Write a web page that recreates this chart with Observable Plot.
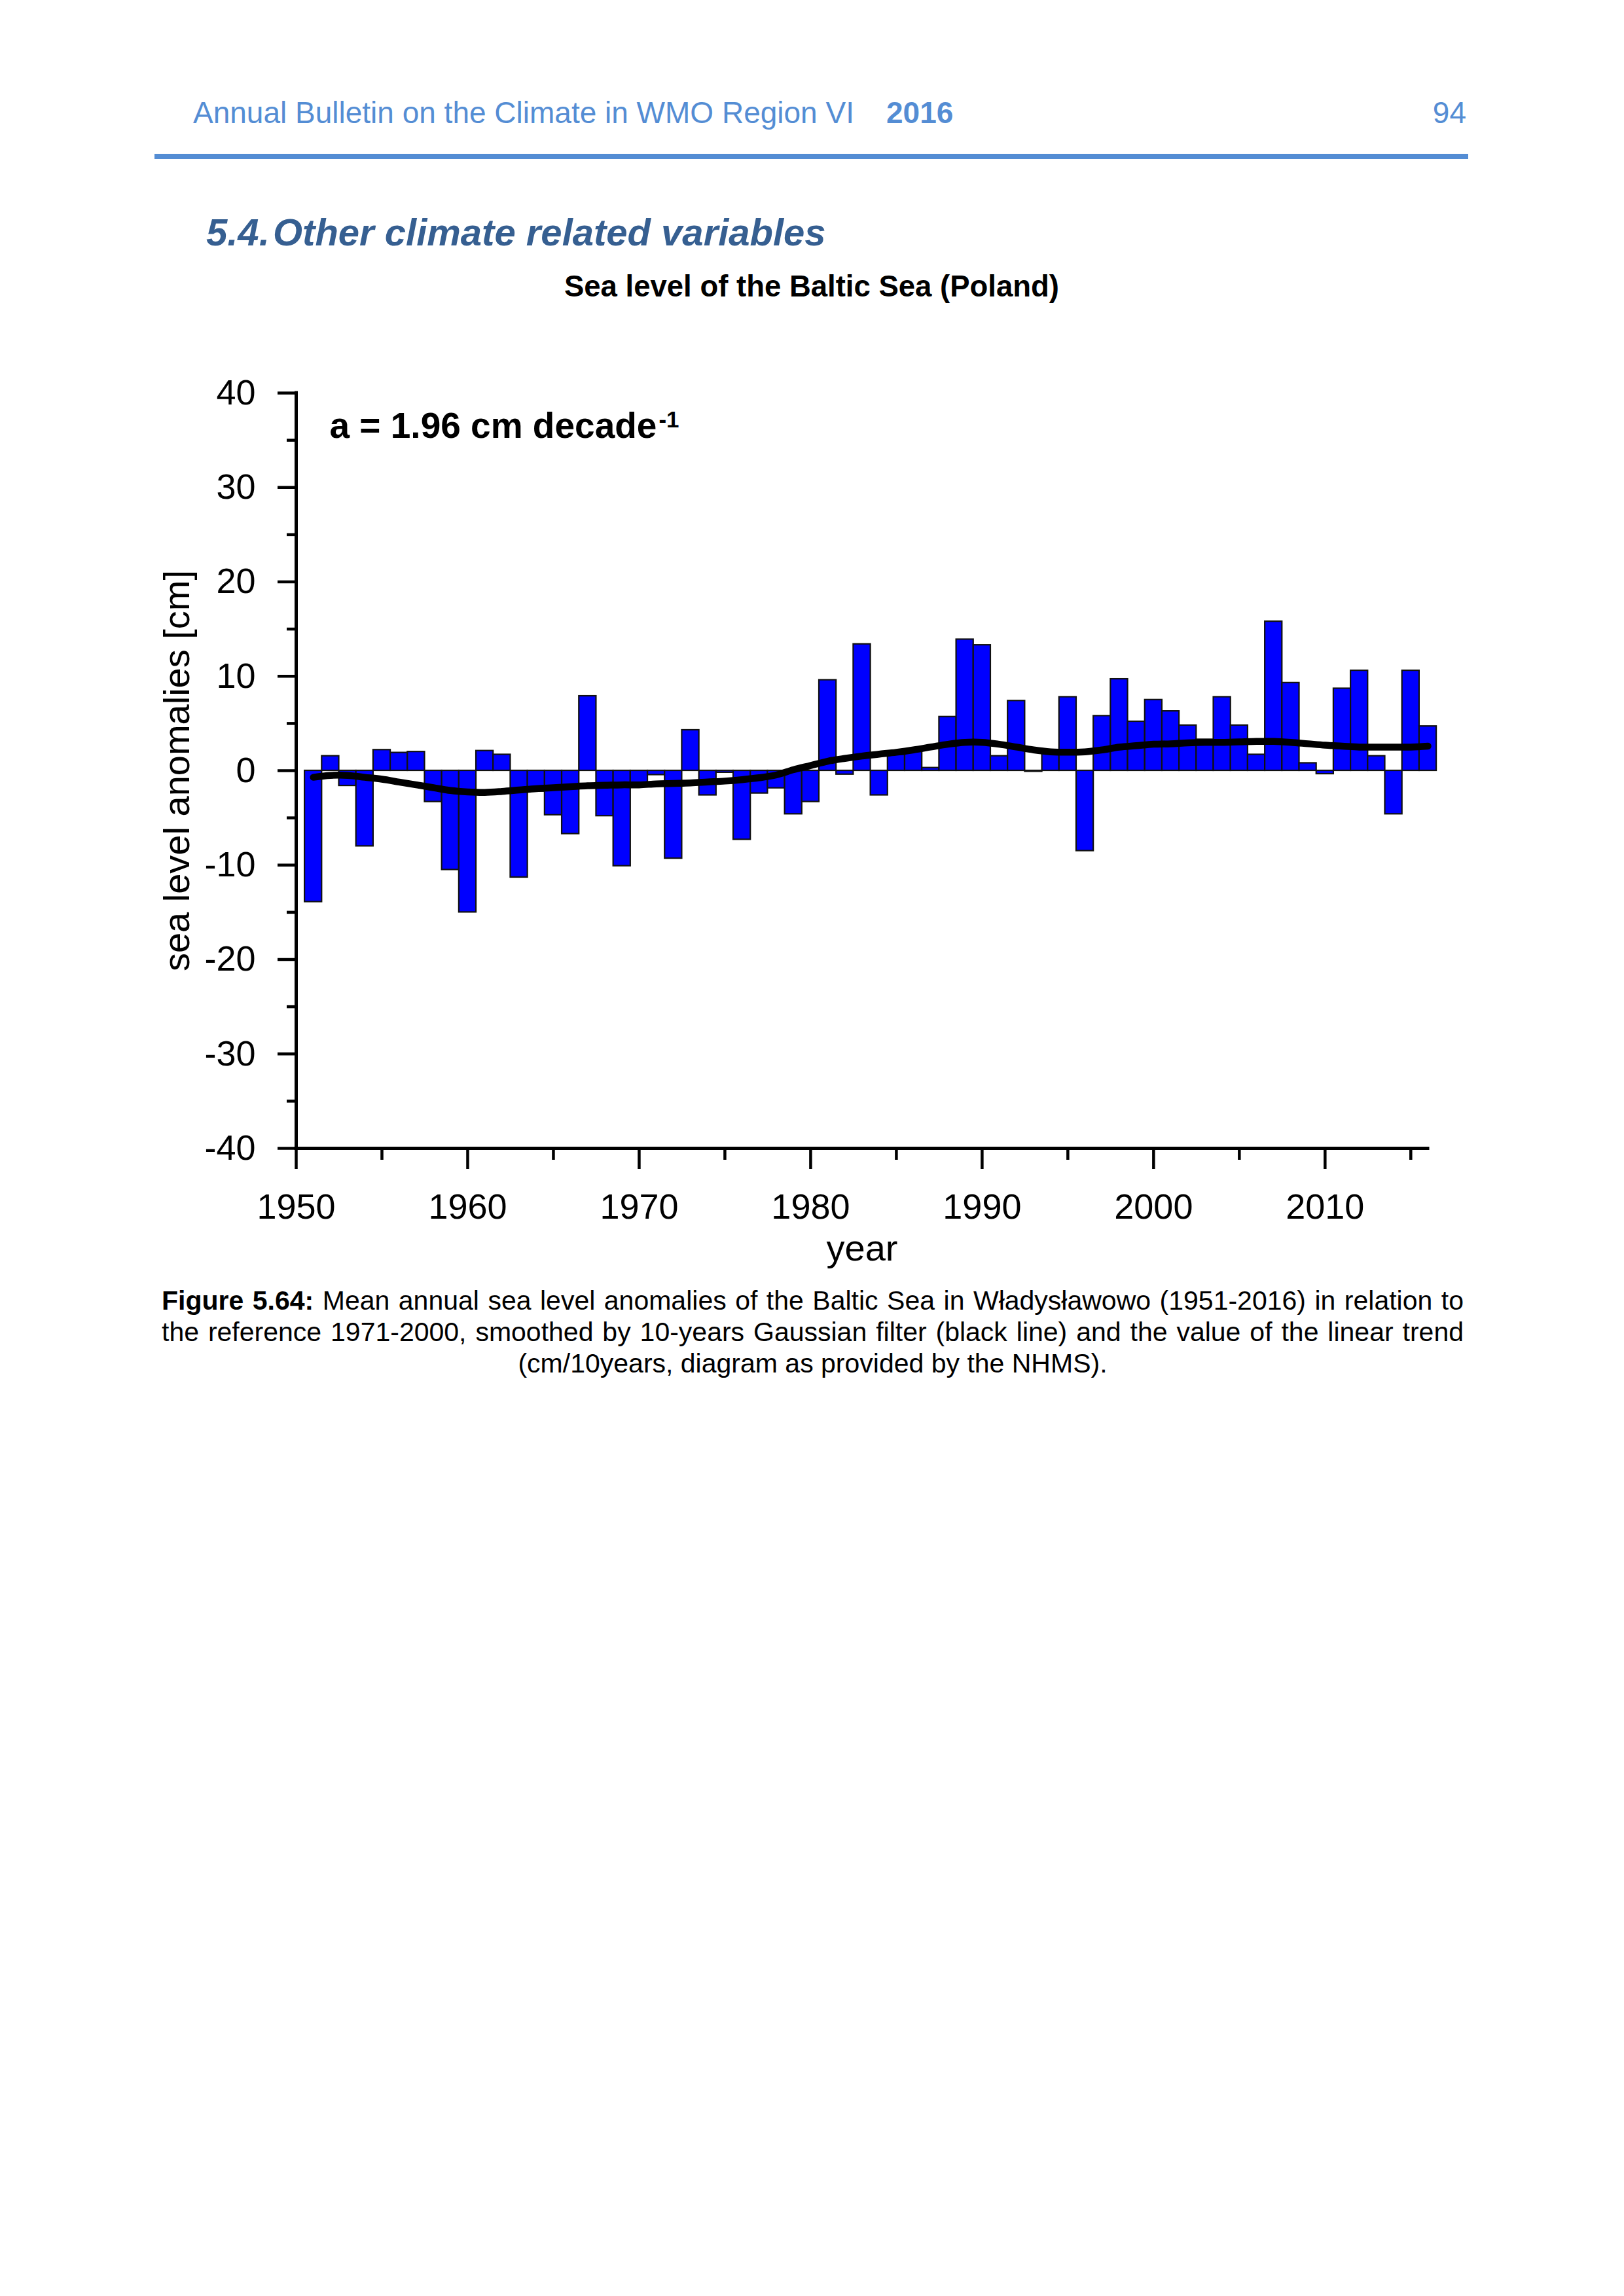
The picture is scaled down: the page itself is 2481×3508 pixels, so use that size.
<!DOCTYPE html>
<html>
<head>
<meta charset="utf-8">
<script src="https://cdn.jsdelivr.net/npm/d3@7"></script>
<script src="https://cdn.jsdelivr.net/npm/@observablehq/plot@0.6"></script>
<style>
  html, body { margin: 0; padding: 0; background: #fff; }
  #page { position: relative; width: 2481px; height: 3508px; background: #fff; overflow: hidden;
          font-family: "Liberation Sans", Arial, sans-serif; }
  .t { position: absolute; white-space: nowrap; }
</style>
</head>
<body>
<div id="page"></div>
<script>
// ---------------- data ----------------
const years = [
  1951,1952,1953,1954,1955,1956,1957,1958,1959,1960,
  1961,1962,1963,1964,1965,1966,1967,1968,1969,1970,
  1971,1972,1973,1974,1975,1976,1977,1978,1979,1980,
  1981,1982,1983,1984,1985,1986,1987,1988,1989,1990,
  1991,1992,1993,1994,1995,1996,1997,1998,1999,2000,
  2001,2002,2003,2004,2005,2006,2007,2008,2009,2010,
  2011,2012,2013,2014,2015,2016
];
const anomaly = [
  -13.9, 1.55, -1.6, -8.0, 2.2, 1.9, 2.0, -3.3, -10.5, -15.0,
  2.1, 1.7, -11.3, -2.2, -4.7, -6.7, 7.9, -4.8, -10.1, -1.7,
  -0.45, -9.3, 4.3, -2.6, -0.2, -7.3, -2.4, -1.85, -4.6, -3.3,
  9.6, -0.4, 13.4, -2.6, 1.7, 2.1, 0.3, 5.7, 13.9, 13.3,
  1.55, 7.4, -0.1, 1.9, 7.8, -8.5, 5.8, 9.7, 5.2, 7.5,
  6.3, 4.8, 3.3, 7.8, 4.8, 1.7, 15.8, 9.3, 0.8, -0.35,
  8.7, 10.6, 1.55, -4.6, 10.6, 4.7
];
const smoothed = [
  -0.7, -0.5, -0.5, -0.7, -0.9, -1.2, -1.5, -1.8, -2.1, -2.25,
  -2.3, -2.2, -2.05, -1.9, -1.8, -1.7, -1.6, -1.55, -1.5, -1.5,
  -1.4, -1.35, -1.3, -1.2, -1.1, -0.95, -0.75, -0.45, 0.1, 0.55,
  1.0, 1.3, 1.55, 1.75, 1.95, 2.2, 2.5, 2.8, 3.0, 3.0,
  2.8, 2.5, 2.2, 2.0, 1.95, 2.0, 2.2, 2.5, 2.65, 2.8,
  2.85, 2.95, 3.0, 3.0, 3.05, 3.1, 3.1, 3.0, 2.85, 2.7,
  2.6, 2.5, 2.5, 2.5, 2.5, 2.6
];
const xMajorTicks = [1950, 1960, 1970, 1980, 1990, 2000, 2010];
const xMinorTicks = [1955, 1965, 1975, 1985, 1995, 2005, 2015];
const yMajorTicks = [-40, -30, -20, -10, 0, 10, 20, 30, 40];
const yMinorTicks = [-35, -25, -15, -5, 5, 15, 25, 35];
const trendLabel = "a = 1.96 cm decade";
const trendSup = "-1";
const yLabel = "sea level anomalies [cm]";
const xLabel = "year";

// ---------------- page texts ----------------
const FONT = '"Liberation Sans", Arial, sans-serif';
const page = document.getElementById("page");
function place(text, x, baseline, size, opts = {}) {
  const d = document.createElement("div");
  d.className = "t";
  d.textContent = text;
  d.style.fontSize = size + "px";
  d.style.lineHeight = size + "px";
  d.style.top = (baseline - 0.8465 * size) + "px";
  if (opts.right != null) d.style.right = (2481 - opts.right) + "px";
  else if (opts.center != null) { d.style.left = (opts.center - 1500) + "px"; d.style.width = "3000px"; d.style.textAlign = "center"; }
  else d.style.left = x + "px";
  if (opts.bold) d.style.fontWeight = "bold";
  if (opts.italic) d.style.fontStyle = "italic";
  d.style.color = opts.color || "#000";
  page.appendChild(d);
  return d;
}
const HEAD = "#548DD4";
place("Annual Bulletin on the Climate in WMO Region VI", 295, 188, 46, {color: HEAD});
place("2016", 1354, 188, 46, {color: HEAD, bold: true});
place("94", null, 188, 46, {color: HEAD, right: 2240});
const rule = document.createElement("div");
Object.assign(rule.style, {position: "absolute", left: "236px", top: "235px", width: "2007px", height: "8px", background: HEAD});
page.appendChild(rule);
place("5.4.", 315, 375, 58, {color: "#365F91", bold: true, italic: true});
place("Other climate related variables", 417, 375, 58, {color: "#365F91", bold: true, italic: true});
place("Sea level of the Baltic Sea (Poland)", null, 454, 45.5, {bold: true, center: 1240});

// caption
function captionLine(html, baseline, justify) {
  const d = document.createElement("div");
  d.className = "t";
  d.innerHTML = html;
  Object.assign(d.style, {
    left: "247px", width: "1989px", fontSize: "41px", lineHeight: "41px",
    top: (baseline - 0.8465 * 41) + "px", color: "#000",
    textAlign: justify ? "justify" : "center", textAlignLast: justify ? "justify" : "center",
    whiteSpace: "normal"
  });
  page.appendChild(d);
}
captionLine("<b>Figure 5.64:</b> Mean annual sea level anomalies of the Baltic Sea in Władysławowo (1951-2016) in relation to", 2002, true);
captionLine("the reference 1971-2000, smoothed by 10-years Gaussian filter (black line) and the value of the linear trend", 2050, true);
captionLine("(cm/10years, diagram as provided by the NHMS).", 2098, false);

// ---------------- chart ----------------
const bars = years.map((y, i) => ({year: y, value: anomaly[i]}));
const line = years.map((y, i) => ({year: y, value: smoothed[i]}));

const TREND_SIZE = 55;
const ctx = document.createElement("canvas").getContext("2d");
ctx.font = `bold ${TREND_SIZE}px "Liberation Sans"`;
const trendW = ctx.measureText(trendLabel).width;

const SVG_TOP = 500;
const chart = Plot.plot({
  width: 2481,
  height: 1500,
  marginLeft: 452,
  marginRight: 300,
  marginTop: 600 - SVG_TOP,
  marginBottom: 1500 - (1754 - SVG_TOP),
  x: {domain: [1950, 2016], label: null},
  y: {domain: [-40, 40], label: null},
  style: {fontFamily: FONT, fontSize: "54px", color: "#000", background: "transparent", overflow: "visible"},
  marks: [
    Plot.rectY(bars, {x1: d => d.year - 0.5, x2: d => d.year + 0.5, y1: 0, y2: "value",
      fill: "#0000ff", stroke: "#111", strokeWidth: 2.2}),
    Plot.line(line, {x: "year", y: "value", stroke: "#000", strokeWidth: 10.5,
      curve: "catmull-rom", strokeLinecap: "round", strokeLinejoin: "round"}),
    Plot.ruleX([1950], {stroke: "#000", strokeWidth: 5, strokeLinecap: "square"}),
    Plot.ruleY([-40], {stroke: "#000", strokeWidth: 5, strokeLinecap: "square"}),
    Plot.axisY({ticks: yMajorTicks, tickSize: 28, tickPadding: 34, tickFormat: d => String(d),
      strokeWidth: 4.5, fontSize: 54, label: null}),
    Plot.axisY({ticks: yMinorTicks, tickSize: 14, tickFormat: () => "", strokeWidth: 4.5, label: null}),
    Plot.axisX({ticks: xMajorTicks, tickSize: 32, tickPadding: 37, tickFormat: d => String(d),
      strokeWidth: 4.5, fontSize: 54, label: null}),
    Plot.axisX({ticks: xMinorTicks, tickSize: 18, tickFormat: () => "", strokeWidth: 4.5, label: null}),
    Plot.text([yLabel], {text: d => d, frameAnchor: "left", dx: 288 - 452, rotate: -90,
      lineAnchor: "bottom", textAnchor: "middle", fontSize: 56}),
    Plot.text([xLabel], {text: d => d, frameAnchor: "bottom", dy: 1925 - 1754,
      lineAnchor: "bottom", textAnchor: "middle", fontSize: 56}),
    Plot.text([trendLabel], {text: d => d, frameAnchor: "top-left", dx: 503 - 452, dy: 668 - 600,
      lineAnchor: "bottom", textAnchor: "start", fontSize: TREND_SIZE, fontWeight: "bold"}),
    Plot.text([trendSup], {text: d => d, frameAnchor: "top-left", dx: 503 - 452 + trendW + 3, dy: 668 - 600 - 16,
      lineAnchor: "bottom", textAnchor: "start", fontSize: 35, fontWeight: "bold"})
  ]
});
const holder = document.createElement("div");
Object.assign(holder.style, {position: "absolute", left: "0px", top: SVG_TOP + "px"});
holder.appendChild(chart);
page.appendChild(holder);
</script>
</body>
</html>
